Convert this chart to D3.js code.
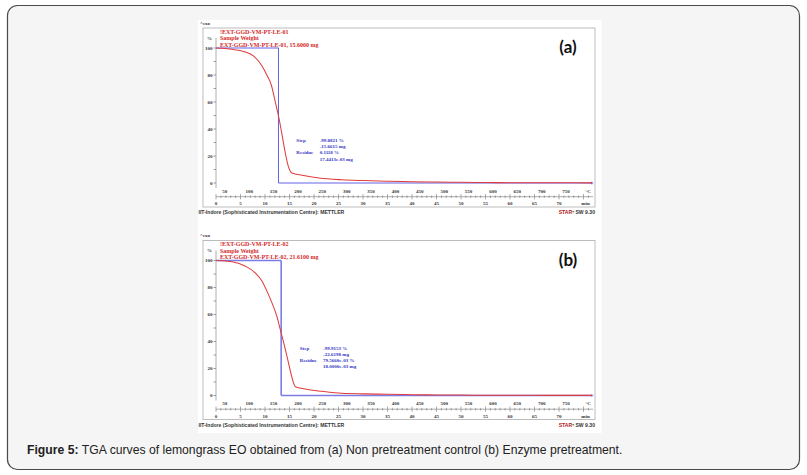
<!DOCTYPE html>
<html lang="en">
<head>
<meta charset="UTF-8">
<title>TGA curves of lemongrass EO</title>
<script src="https://d3js.org/d3.v7.min.js"></script>
<style>
    body{ margin:0; background:#fff; }
    .tiny{ font-family:"Liberation Serif", serif; font-weight:bold; }
    .foot{ font-family:"Liberation Sans", Arial, sans-serif; font-weight:bold; font-size:5.1px; fill:#333; }
    .caption{ font-family:"Liberation Sans", Arial, sans-serif; font-size:12.2px; fill:#222; }
    .tag{ font-family:Lato, "Open Sans", sans-serif; font-weight:bold; font-size:17px; fill:#111; }
</style>
</head>
<body>
<svg id="fig" width="807" height="475"></svg>
<script>
// time (min) and sample weight (%)
let timeA   = [0, 3.3, 6.0, 7.7, 9.4, 10.4, 11.3, 12.1, 12.8, 13.5, 14.1, 14.7, 15.5, 17.6, 21.0, 25.7, 30, 35, 40, 45, 50, 55, 60, 65, 70, 76.7]
let weightA = [100, 99, 97, 94, 86.7, 79.8, 72.4, 60, 48.9, 35.3, 23, 13.1, 7.4, 5.7, 3.7, 2.4, 1.8, 1.3, 1.0, 0.7, 0.5, 0.35, 0.25, 0.18, 0.12, 0.11]
let timeB   = [0, 3.3, 6.0, 8.0, 9.4, 10.4, 11.4, 12.5, 13.1, 13.8, 14.7, 15.5, 16.2, 18.2, 21.6, 25.7, 30, 35, 40, 45, 50, 55, 60, 65, 70, 76.7]
let weightB = [100, 99, 95.8, 90.9, 84.7, 77.3, 68.8, 57.7, 49.1, 39.3, 25.7, 13.4, 6.5, 4.8, 3.1, 1.6, 1.2, 0.9, 0.6, 0.4, 0.3, 0.2, 0.15, 0.12, 0.1, 0.08]

// step evaluation (time of step, start %, residue %)
let stepTime = [12.75, 13.3]
let stepStart = [100, 100]
let stepEnd = [0, 0]

// tick labels
let tempTicks = [50, 100, 150, 200, 250, 300, 350, 400, 450, 500, 550, 600, 650, 700, 750]
let timeTicks = [0, 5, 10, 15, 20, 25, 30, 35, 40, 45, 50, 55, 60, 65, 70]
let weightTicks = [0, 20, 40, 60, 80, 100]

// texts
let panelTags = ["(a)", "(b)"]
let headerA = ["!EXT-GGD-VM-PT-LE-01", "Sample Weight", "EXT-GGD-VM-PT-LE-01, 15.6000 mg"]
let headerB = ["!EXT-GGD-VM-PT-LE-02", "Sample Weight", "EXT-GGD-VM-PT-LE-02, 21.6100 mg"]
let stepLabels = ["Step", "", "Residue", ""]
let stepA = ["-99.8821 %", "-15.6615 mg", "0.1118 %", "17.4413e-03 mg"]
let stepB = ["-99.9153 %", "-22.6198 mg", "79.5660e-03 %", "18.0000e-03 mg"]
let caption = "TGA curves of lemongrass EO obtained from (a) Non pretreatment control (b) Enzyme pretreatment."

let svg = d3.select("#fig")

// page card
svg.append("rect").attr("x", 7.5).attr("y", 5.5).attr("width", 792).attr("height", 464)
    .attr("rx", 10).attr("fill", "#f5f5f5").attr("stroke", "#4a4a4a").attr("stroke-width", 1.2)
// white image area
svg.append("rect").attr("x", 198).attr("y", 20).attr("width", 403.5).attr("height", 413).attr("fill", "#fff")

let cap = svg.append("text").attr("class", "caption").attr("x", 27).attr("y", 454)
cap.append("tspan").attr("font-weight", "bold").text("Figure 5: ")
cap.append("tspan").text(caption)

function drawPanel(dy, times, weights, header, stepVals, idx, notePos) {
    let g = svg.append("g").attr("transform", "translate(0," + dy + ")")

    let x = d3.scaleLinear().domain([0, 77]).range([216, 593.3])
    let temp = d3.scaleLinear().domain([32, 32 + 10.05 * 77]).range([216, 593.3])
    let y = d3.scaleLinear().domain([0, 100]).range([183, 48])

    g.append("rect").attr("x", 203).attr("y", 28).attr("width", 392).attr("height", 179)
        .attr("fill", "none").attr("stroke", "#b5b5b5").attr("stroke-width", 0.9)

    g.append("text").attr("class", "tiny").attr("x", 200).attr("y", 24.5)
        .attr("font-size", 5).attr("fill", "#333").text("^exo")

    // y axis
    g.append("line").attr("x1", 216).attr("x2", 216).attr("y1", 38).attr("y2", 188)
        .attr("stroke", "#9a9a9a").attr("stroke-width", 0.8)
    g.selectAll(".ytk").data(d3.range(0, 101, 10)).join("line")
        .attr("x1", 213.5).attr("x2", 216).attr("y1", d => y(d)).attr("y2", d => y(d))
        .attr("stroke", "#777").attr("stroke-width", 0.7)
    g.selectAll(".ylab").data(weightTicks).join("text").attr("class", "tiny")
        .attr("x", 212.5).attr("y", d => y(d) + 1.8).attr("text-anchor", "end")
        .attr("font-size", 5).attr("fill", "#333").text(d => d)
    g.append("text").attr("class", "tiny").attr("x", 212).attr("y", 39.5).attr("text-anchor", "end")
        .attr("font-size", 5).attr("fill", "#333").text("%")

    // bottom axis
    g.append("line").attr("x1", 216).attr("x2", 593).attr("y1", 196.7).attr("y2", 196.7)
        .attr("stroke", "#888").attr("stroke-width", 0.7)
    g.selectAll(".xtk").data(d3.range(0, 77, 1)).join("line")
        .attr("x1", d => x(d)).attr("x2", d => x(d))
        .attr("y1", d => d % 5 === 0 ? 194 : 195.4).attr("y2", d => d % 5 === 0 ? 199.4 : 198)
        .attr("stroke", "#777").attr("stroke-width", 0.6)
    g.selectAll(".tlab").data(tempTicks).join("text").attr("class", "tiny")
        .attr("x", d => temp(d)).attr("y", 192.8).attr("text-anchor", "middle")
        .attr("font-size", 5).attr("fill", "#333").text(d => d)
    g.append("text").attr("class", "tiny").attr("x", 588).attr("y", 192.8).attr("text-anchor", "middle")
        .attr("font-size", 5).attr("fill", "#333").text("°C")
    g.selectAll(".mlab").data(timeTicks).join("text").attr("class", "tiny")
        .attr("x", d => x(d)).attr("y", 205.2).attr("text-anchor", "middle")
        .attr("font-size", 5).attr("fill", "#333").text(d => d)
    g.append("text").attr("class", "tiny").attr("x", 585.5).attr("y", 205.2).attr("text-anchor", "middle")
        .attr("font-size", 5).attr("fill", "#333").text("min")

    // step evaluation lines
    let sx = x(stepTime[idx])
    let blue = idx === 0 ? "#6262e6" : "#7c7ce6"
    let bw = idx === 0 ? 1 : 1.6
    g.append("line").attr("x1", x(0)).attr("x2", sx).attr("y1", y(stepStart[idx])).attr("y2", y(stepStart[idx]))
        .attr("stroke", blue).attr("stroke-width", bw)
    g.append("line").attr("x1", sx).attr("x2", sx).attr("y1", y(stepStart[idx])).attr("y2", y(stepEnd[idx]))
        .attr("stroke", blue).attr("stroke-width", bw)
    g.append("line").attr("x1", sx).attr("x2", x(76.7)).attr("y1", y(stepEnd[idx])).attr("y2", y(stepEnd[idx]))
        .attr("stroke", blue).attr("stroke-width", bw)
    g.append("path").attr("d", "M" + (x(76.7) - 1.5) + "," + y(0) + "h3M" + x(76.7) + "," + (y(0) - 1.5) + "v3")
        .attr("stroke", blue).attr("stroke-width", 0.8)

    // curve
    let pts = times.map((t, i) => [t, weights[i]])
    g.append("path").datum(pts)
        .attr("d", d3.line().x(d => x(d[0])).y(d => y(d[1])).curve(d3.curveMonotoneX))
        .attr("fill", "none").attr("stroke", "#e03c3c").attr("stroke-width", 1.05)

    // header
    g.selectAll(".hdr").data(header).join("text").attr("class", "tiny")
        .attr("x", 220).attr("y", (d, i) => 33.5 + i * 6.6)
        .attr("font-size", 6).attr("fill", "#d42a2a").text(d => d)

    // step annotation
    let nx = x(notePos[0]), ny = y(notePos[1])
    g.selectAll(".slab").data(stepLabels).join("text").attr("class", "tiny")
        .attr("x", nx).attr("y", (d, i) => ny + 2 + i * 6.2)
        .attr("font-size", 5).attr("fill", "#3434c4").text(d => d)
    g.selectAll(".sval").data(stepVals).join("text").attr("class", "tiny")
        .attr("x", nx + 23.3).attr("y", (d, i) => ny + 2 + i * 6.2)
        .attr("font-size", 5).attr("fill", "#3434c4").text(d => d)

    g.append("text").attr("class", "tag").attr("x", 568).attr("y", 53).attr("text-anchor", "middle")
        .text(panelTags[idx])

    // footer
    g.append("text").attr("class", "foot").attr("x", 198.5).attr("y", 214)
        .text("IIT-Indore (Sophisticated Instrumentation Centre): METTLER")
    let st = g.append("text").attr("class", "foot").attr("x", 595).attr("y", 214).attr("text-anchor", "end")
    st.append("tspan").attr("fill", "#b02020").text("STAR")
    st.append("tspan").text("ᵉ SW 9.30")
}

drawPanel(0, timeA, weightA, headerA, stepA, 0, [16.4, 31.9])
drawPanel(212.5, timeB, weightB, headerB, stepB, 1, [17.1, 35.3])
</script>
</body>
</html>
